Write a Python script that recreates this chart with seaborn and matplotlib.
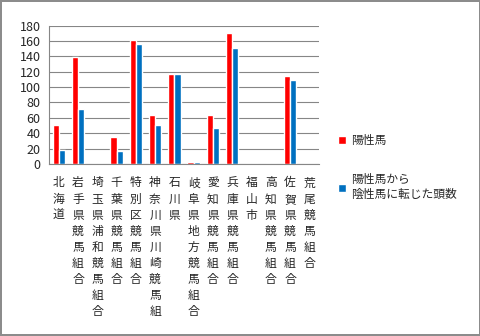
import pandas as pd
import matplotlib
matplotlib.use('Agg')
import matplotlib.pyplot as plt
import seaborn as sns

# データ
categories = ['北海道', '岩手県競馬組合', '埼玉県浦和競馬組合', '千葉県競馬組合',
              '特別区競馬組合', '神奈川県川崎競馬組', '石川県', '岐阜県地方競馬組合',
              '愛知県競馬組合', '兵庫県競馬組合', '福山市', '高知県競馬組合',
              '佐賀県競馬組合', '荒尾競馬組合']
positive = [51, 139, 0, 35, 161, 64, 117, 3, 64, 170, 0, 0, 114, 0]
converted = [18, 72, 0, 17, 156, 51, 117, 3, 47, 151, 0, 0, 109, 0]
series_names = ['陽性馬', '陽性馬から\n陰性馬に転じた頭数']
colors = ['#FF0000', '#0070C0']

df = pd.DataFrame({
    'category': categories * 2,
    'value': positive + converted,
    'series': [series_names[0]] * len(categories) + [series_names[1]] * len(categories),
})

sns.set_style('white')
plt.rcParams['font.family'] = ['Noto Sans CJK JP', 'DejaVu Sans']

fig = plt.figure(figsize=(4.81, 3.36), dpi=100)
fig.patch.set_edgecolor('#8c8c8c')
fig.patch.set_linewidth(1.5)
ax = fig.add_axes([0.102, 0.512, 0.561, 0.412])

sns.barplot(data=df, x='category', y='value', hue='series', palette=colors,
            width=0.64, saturation=1, ax=ax, legend=True)

ax.set_xlim(-0.5, len(categories) - 0.5)
ax.set_ylim(0, 180)
ax.set_yticks(range(0, 181, 20))
ax.yaxis.grid(True, color='#868686', lw=0.8)
ax.set_axisbelow(True)
ax.set_xlabel('')
ax.set_ylabel('')

for s in ['top', 'right']:
    ax.spines[s].set_visible(False)
for s in ['left', 'bottom']:
    ax.spines[s].set_color('#868686')
    ax.spines[s].set_linewidth(0.8)

# 縦書きラベル
ax.set_xticks(range(len(categories)))
ax.set_xticklabels(['\n'.join(c) for c in categories], fontsize=8.5,
                   linespacing=1.31, va='top')
ax.set_xticks([i - 0.5 for i in range(len(categories) + 1)], minor=True)
ax.tick_params(axis='x', which='major', length=0, pad=9)
ax.tick_params(axis='x', which='minor', length=4, color='#868686', width=0.8)
ax.tick_params(axis='y', length=0, pad=6, labelsize=9)

handles, labels = ax.get_legend_handles_labels()
ax.get_legend().remove()
fig.legend(handles, labels, loc='upper left', bbox_to_anchor=(0.703, 0.6),
           frameon=False, fontsize=8.5, handlelength=0.7, handleheight=0.7,
           handletextpad=0.4, labelspacing=2.2, borderpad=0, borderaxespad=0)

fig.savefig('out.png', dpi=100)
